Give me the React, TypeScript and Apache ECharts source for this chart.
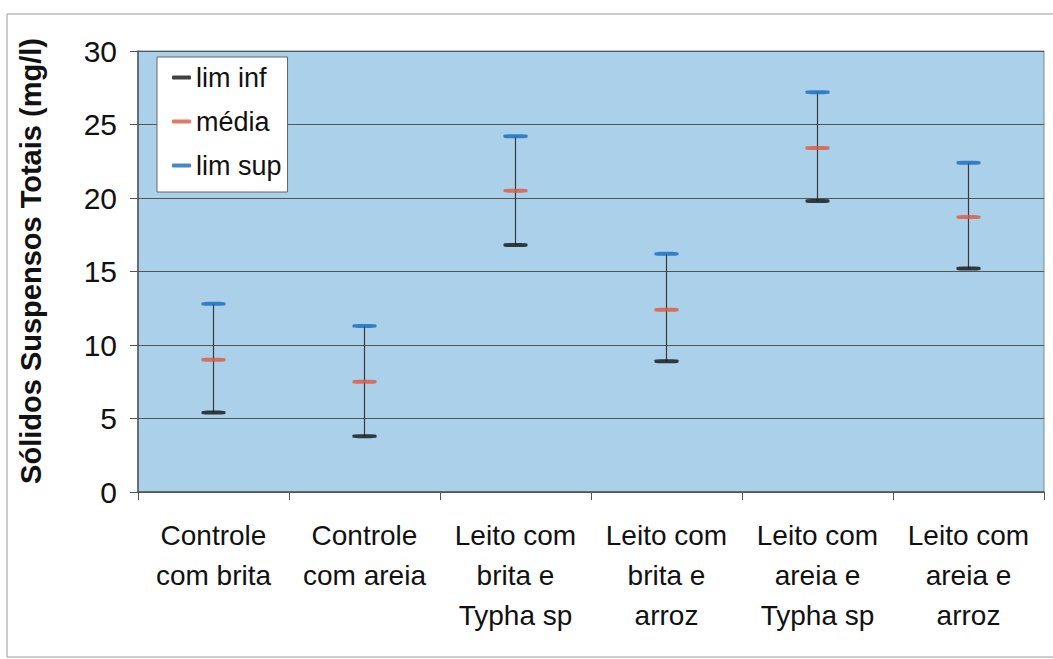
import React, { useEffect, useRef } from "react";
import * as echarts from "echarts";

// Treatments (x categories)
const categories = [
  "Controle\ncom brita",
  "Controle\ncom areia",
  "Leito com\nbrita e\nTypha sp",
  "Leito com\nbrita e\narroz",
  "Leito com\nareia e\nTypha sp",
  "Leito com\nareia e\narroz",
];

// Confidence limits and mean of total suspended solids (mg/l)
const limInf = [5.4, 3.8, 16.8, 8.9, 19.8, 15.2];
const media = [9.0, 7.5, 20.5, 12.4, 23.4, 18.7];
const limSup = [12.8, 11.3, 24.2, 16.2, 27.2, 22.4];

const yTicks = { min: 0, max: 30, interval: 5 };

const FONT = "'Liberation Sans', Arial, Helvetica, sans-serif";

export default function App() {
  const ref = useRef<HTMLDivElement>(null);

  useEffect(() => {
    if (!ref.current) return;
    const chart = echarts.init(ref.current, null, { renderer: "svg" });

    const capSeries = (name: string, data: number[], color: string) => ({
      name,
      type: "scatter",
      data,
      symbol: "roundRect",
      symbolSize: [24, 4],
      itemStyle: { color },
      z: 5,
    });

    chart.setOption({
      animation: false,
      backgroundColor: "#ffffff",
      textStyle: { fontFamily: FONT },
      grid: {
        left: 138,
        right: 9,
        top: 51,
        bottom: 167,
        show: true,
        backgroundColor: "#abd0ea",
        borderColor: "#7a8a96",
        borderWidth: 1,
      },
      legend: {
        orient: "vertical",
        left: 157,
        top: 57,
        padding: [7, 6, 13, 15],
        itemGap: 17,
        itemWidth: 19,
        itemHeight: 4,
        backgroundColor: "#ffffff",
        borderColor: "#666",
        borderWidth: 1,
        borderRadius: 0,
        icon: "roundRect",
        textStyle: { fontFamily: FONT, fontSize: 27, color: "#111" },
        data: ["lim inf", "média", "lim sup"],
      },
      xAxis: {
        type: "category",
        data: categories,
        boundaryGap: true,
        axisLine: { lineStyle: { color: "#555", width: 1.5 } },
        axisTick: { show: true, length: 8, alignWithLabel: false, lineStyle: { color: "#555" } },
        axisLabel: {
          interval: 0,
          margin: 23,
          fontFamily: FONT,
          fontSize: 28,
          lineHeight: 40,
          color: "#111",
        },
        splitLine: { show: false },
      },
      yAxis: {
        type: "value",
        min: yTicks.min,
        max: yTicks.max,
        interval: yTicks.interval,
        axisLine: { show: true, lineStyle: { color: "#555", width: 1.5 } },
        axisTick: { show: true, length: 8, lineStyle: { color: "#555" } },
        axisLabel: {
          margin: 21,
          fontFamily: FONT,
          fontSize: 30,
          color: "#111",
        },
        splitLine: { show: true, lineStyle: { color: "#555", width: 1 } },
      },
      graphic: [
        {
          type: "rect",
          shape: { x: 7, y: 14, width: 1060, height: 643 },
          style: { fill: "none", stroke: "#9a9a9a", lineWidth: 1 },
          silent: true,
          z: -1,
        },
        {
          type: "text",
          x: 31,
          y: 261,
          rotation: Math.PI / 2,
          style: {
            text: "Sólidos Suspensos Totais (mg/l)",
            font: `bold 29px ${FONT}`,
            fill: "#111",
            align: "center",
            verticalAlign: "middle",
          },
        },
      ],
      series: [
        {
          name: "whisker",
          type: "custom",
          data: categories.map((_, i) => [i, limInf[i], limSup[i]]),
          renderItem: (params: any, api: any) => {
            const lo = api.coord([api.value(0), api.value(1)]);
            const hi = api.coord([api.value(0), api.value(2)]);
            return {
              type: "line",
              shape: { x1: lo[0], y1: lo[1], x2: hi[0], y2: hi[1] },
              style: { stroke: "#3a3a3a", lineWidth: 1.2 },
            };
          },
          z: 3,
        },
        capSeries("lim inf", limInf, "#111111"),
        capSeries("média", media, "#e0583c"),
        capSeries("lim sup", limSup, "#1769bf"),
      ],
    });

    return () => chart.dispose();
  }, []);

  return (
    <div
      ref={ref}
      style={{ position: "absolute", left: 0, top: 0, width: 1053, height: 659 }}
    />
  );
}
